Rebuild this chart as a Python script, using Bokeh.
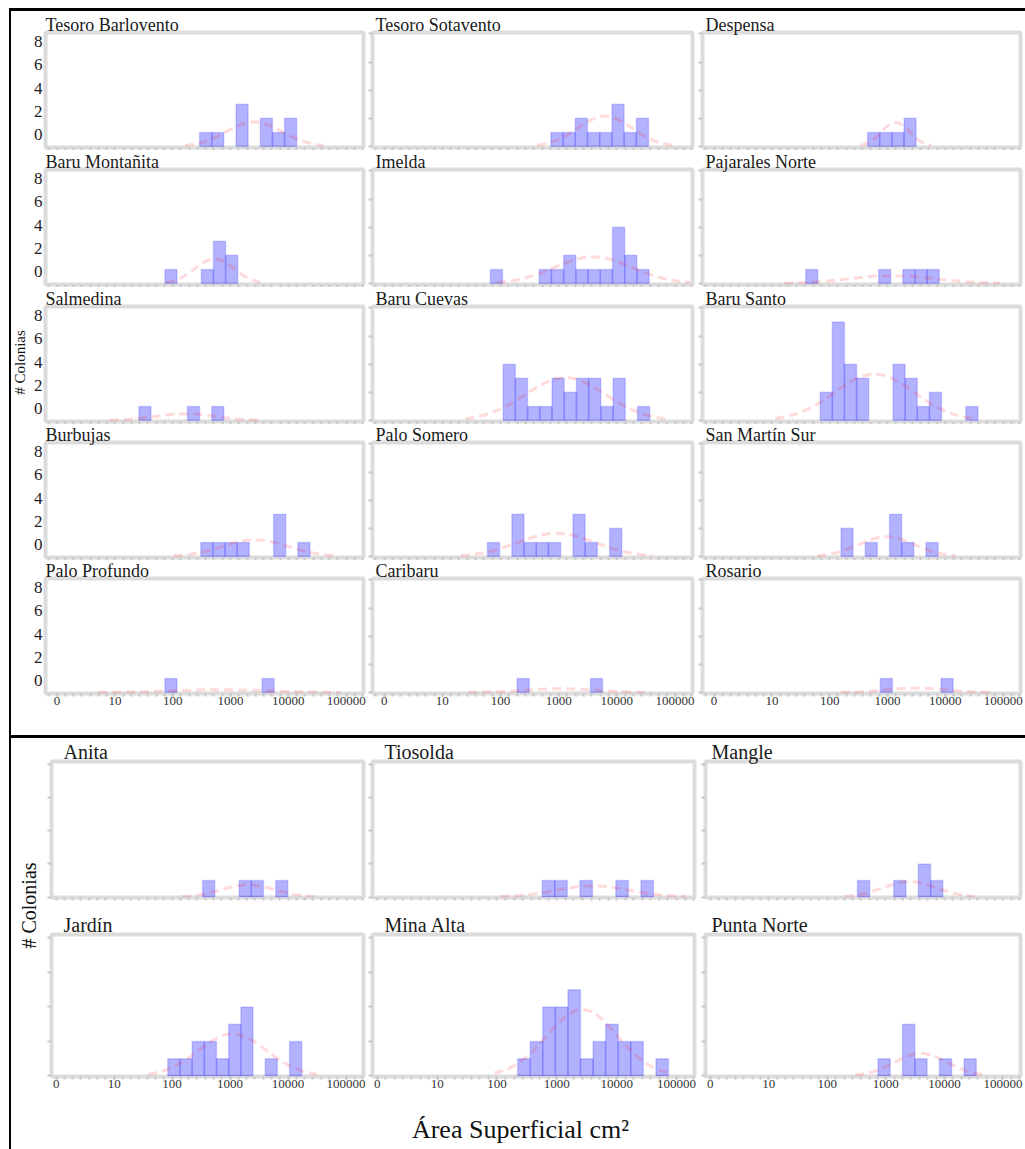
import numpy as np
from bokeh.embed import file_html
from bokeh.layouts import column, row
from bokeh.models import Div, FixedTicker, Label, LinearAxis, Range1d, Spacer
from bokeh.plotting import figure
from bokeh.resources import INLINE

SERIF = "Liberation Serif"

# Size classes are log10(area in cm²); every bar spans 0.21 of a decade.
BIN_WIDTH = 0.21
area_ticks = [0, 1, 2, 3, 4, 5]
area_tick_labels = ["0", "10", "100", "1000", "10000", "100000"]
count_ticks = [0, 2, 4, 6, 8]

# ---- Upper block: bin centres (log10 cm²) and colonies per bin for each site
tesoro_barlovento_bins = [2.57, 2.78, 3.20, 3.62, 3.83, 4.04]
tesoro_barlovento_counts = [1, 1, 3, 2, 1, 2]
tesoro_sotavento_bins = [2.97, 3.18, 3.39, 3.60, 3.81, 4.02, 4.23, 4.44]
tesoro_sotavento_counts = [1, 1, 2, 1, 1, 3, 1, 2]
despensa_bins = [2.76, 2.97, 3.18, 3.39]
despensa_counts = [1, 1, 1, 2]

baru_montanita_bins = [1.97, 2.60, 2.81, 3.02]
baru_montanita_counts = [1, 1, 3, 2]
imelda_bins = [1.93, 2.77, 2.98, 3.19, 3.40, 3.61, 3.82, 4.03, 4.24, 4.45]
imelda_counts = [1, 1, 1, 2, 1, 1, 1, 4, 2, 1]
pajarales_norte_bins = [1.69, 2.95, 3.37, 3.58, 3.79]
pajarales_norte_counts = [1, 1, 1, 1, 1]

salmedina_bins = [1.52, 2.36, 2.78]
salmedina_counts = [1, 1, 1]
baru_cuevas_bins = [2.15, 2.36, 2.57, 2.78, 2.99, 3.20, 3.41, 3.62, 3.83, 4.04, 4.46]
baru_cuevas_counts = [4, 3, 1, 1, 3, 2, 3, 3, 1, 3, 1]
baru_santo_bins = [1.94, 2.15, 2.36, 2.57, 3.20, 3.41, 3.62, 3.83, 4.46]
baru_santo_counts = [2, 7, 4, 3, 4, 3, 1, 2, 1]

burbujas_bins = [2.59, 2.80, 3.01, 3.22, 3.85, 4.27]
burbujas_counts = [1, 1, 1, 1, 3, 1]
palo_somero_bins = [1.88, 2.30, 2.51, 2.72, 2.93, 3.35, 3.56, 3.98]
palo_somero_counts = [1, 3, 1, 1, 1, 3, 1, 2]
san_martin_sur_bins = [2.30, 2.72, 3.14, 3.35, 3.77]
san_martin_sur_counts = [2, 1, 3, 1, 1]

palo_profundo_bins = [1.97, 3.65]
palo_profundo_counts = [1, 1]
caribaru_bins = [2.39, 3.65]
caribaru_counts = [1, 1]
rosario_bins = [2.98, 4.03]
rosario_counts = [1, 1]

# ---- Lower block
anita_bins = [2.63, 3.26, 3.47, 3.89]
anita_counts = [1, 1, 1, 1]
tiosolda_bins = [2.86, 3.07, 3.49, 4.09, 4.51]
tiosolda_counts = [1, 1, 1, 1, 1]
mangle_bins = [2.62, 3.24, 3.66, 3.87]
mangle_counts = [1, 1, 2, 1]

jardin_bins = [2.03, 2.24, 2.45, 2.66, 2.87, 3.08, 3.29, 3.71, 4.13]
jardin_counts = [1, 1, 2, 2, 1, 3, 4, 1, 2]
mina_alta_bins = [2.45, 2.66, 2.87, 3.08, 3.29, 3.50, 3.71, 3.92, 4.13, 4.34, 4.76]
mina_alta_counts = [1, 2, 4, 4, 5, 1, 2, 3, 2, 2, 1]
punta_norte_bins = [2.97, 3.39, 3.60, 4.02, 4.44]
punta_norte_counts = [1, 3, 1, 1, 1]

upper_sites = [
    [("Tesoro Barlovento", tesoro_barlovento_bins, tesoro_barlovento_counts),
     ("Tesoro Sotavento", tesoro_sotavento_bins, tesoro_sotavento_counts),
     ("Despensa", despensa_bins, despensa_counts)],
    [("Baru Montañita", baru_montanita_bins, baru_montanita_counts),
     ("Imelda", imelda_bins, imelda_counts),
     ("Pajarales Norte", pajarales_norte_bins, pajarales_norte_counts)],
    [("Salmedina", salmedina_bins, salmedina_counts),
     ("Baru Cuevas", baru_cuevas_bins, baru_cuevas_counts),
     ("Baru Santo", baru_santo_bins, baru_santo_counts)],
    [("Burbujas", burbujas_bins, burbujas_counts),
     ("Palo Somero", palo_somero_bins, palo_somero_counts),
     ("San Martín Sur", san_martin_sur_bins, san_martin_sur_counts)],
    [("Palo Profundo", palo_profundo_bins, palo_profundo_counts),
     ("Caribaru", caribaru_bins, caribaru_counts),
     ("Rosario", rosario_bins, rosario_counts)],
]
lower_sites = [
    [("Anita", anita_bins, anita_counts),
     ("Tiosolda", tiosolda_bins, tiosolda_counts),
     ("Mangle", mangle_bins, mangle_counts)],
    [("Jardín", jardin_bins, jardin_counts),
     ("Mina Alta", mina_alta_bins, mina_alta_counts),
     ("Punta Norte", punta_norte_bins, punta_norte_counts)],
]

# small gray marks along the bottom of every frame, 7 per decade
AREA_MINOR = [k / 7 for k in range(-1, 38)]
TICK_GRAY = "#c8c8c8"


def normal_fit(bins, counts, spread=2.5, steps=30):
    """Expected colonies per size class under a normal fit of log10 area."""
    sizes = np.repeat(np.asarray(bins, dtype=float), counts)
    mu, sd = sizes.mean(), sizes.std()
    gx = np.linspace(mu - spread * sd, mu + spread * sd, steps)
    gy = len(sizes) * BIN_WIDTH * np.exp(-0.5 * ((gx - mu) / sd) ** 2) / (sd * np.sqrt(2 * np.pi))
    return gx, gy


def site_panel(name, bins, counts, width, height, border, x_span, y_span,
               title_size, title_offset, title_standoff, label_span=None, area_labels=False):
    left, right, top, bottom = border
    p = figure(title=name, width=width, height=height,
               x_range=Range1d(*x_span), y_range=Range1d(*y_span),
               x_axis_location=None, y_axis_location=None,
               toolbar_location=None, output_backend="svg",
               min_border_left=left, min_border_right=right,
               min_border_top=top, min_border_bottom=bottom)
    p.grid.visible = False
    p.background_fill_color = "white"
    p.border_fill_color = "white"
    p.outline_line_color = "#dcdcdc"
    p.outline_line_width = 4

    p.title.text_font = SERIF
    p.title.text_font_size = f"{title_size}px"
    p.title.text_font_style = "normal"
    p.title.text_color = "#1a1a1a"
    p.title.align = "left"
    p.title.offset = title_offset
    p.title.standoff = title_standoff

    if area_labels:
        xa = LinearAxis(ticker=FixedTicker(ticks=area_ticks, minor_ticks=AREA_MINOR))
        xa.major_label_overrides = dict(zip(area_ticks, area_tick_labels))
        xa.major_label_text_font = SERIF
        xa.major_label_text_font_size = "13px"
        xa.major_label_text_color = "#333333"
        xa.major_label_standoff = 0
    else:
        xa = LinearAxis(ticker=FixedTicker(ticks=[], minor_ticks=AREA_MINOR))
    xa.axis_line_color = None
    xa.major_tick_line_color = TICK_GRAY
    xa.major_tick_line_width = 2
    xa.major_tick_in = 0
    xa.major_tick_out = 3
    xa.minor_tick_line_color = TICK_GRAY
    xa.minor_tick_line_width = 2
    xa.minor_tick_in = 0
    xa.minor_tick_out = 3
    p.add_layout(xa, "below")

    if label_span is not None:
        # numbered count axis of the first column
        p.extra_y_ranges = {"count_labels": Range1d(*label_span)}
        ya = LinearAxis(y_range_name="count_labels", ticker=FixedTicker(ticks=count_ticks))
        ya.major_tick_line_color = None
        ya.major_tick_out = 0
        ya.major_tick_in = 0
        ya.major_label_text_font = SERIF
        ya.major_label_text_font_size = "17px"
        ya.major_label_text_color = "#222222"
        ya.major_label_standoff = 3
    else:
        ya = LinearAxis(ticker=FixedTicker(ticks=[], minor_ticks=count_ticks))
        ya.minor_tick_line_color = TICK_GRAY
        ya.minor_tick_line_width = 2
        ya.minor_tick_in = 0
        ya.minor_tick_out = 4
    ya.axis_line_color = None
    p.add_layout(ya, "left")

    p.vbar(x=bins, top=counts, width=BIN_WIDTH, bottom=0,
           fill_color="#0000ff", fill_alpha=0.3,
           line_color="#0000ff", line_alpha=0.15, line_width=1.5)
    gx, gy = normal_fit(bins, counts)
    p.line(gx, gy, line_color="#ff2020", line_alpha=0.16, line_width=3, line_dash="9 5")
    return p


def text_strip(width, height, text, x, y, size, angle=0.0, baseline="middle"):
    p = figure(width=width, height=height, x_range=Range1d(0, width), y_range=Range1d(0, height),
               x_axis_location=None, y_axis_location=None,
               toolbar_location=None, output_backend="svg", min_border=0)
    p.grid.visible = False
    p.outline_line_color = None
    p.background_fill_color = "white"
    p.border_fill_color = "white"
    p.add_layout(Label(x=x, y=y, text=text, angle=angle, text_font=SERIF,
                       text_font_size=f"{size}px", text_color="#111111",
                       text_align="center", text_baseline=baseline))
    return p


def rule(width, height):
    return Div(text="", width=width, height=height, margin=0,
               styles={"background-color": "#000000"})


def gap(width, height):
    return Spacer(width=width, height=height, margin=0)


# ---- upper block: 5 rows x 3 columns
upper_rows = [  # (height, top border, bottom border)
    (139, 21, 3), (137, 19, 3), (137, 19, 3), (136, 18, 3), (175, 18, 42),
]
upper_cols = [(337, 13, 4), (330, 5, 5), (328, 5, 5)]  # (width, left, right)
UPPER_X = (-0.2, 5.3)
UPPER_Y = (-0.07, 8.1)
UPPER_LABELS = (-1.12, 8.78)

upper_columns = []
for c, (w, lb, rb) in enumerate(upper_cols):
    figs = []
    for r, (h, tb, bb) in enumerate(upper_rows):
        name, bins, counts = upper_sites[r][c]
        figs.append(site_panel(name, bins, counts, w, h, (lb, rb, tb, bb), UPPER_X, UPPER_Y,
                               title_size=18, title_offset=0 if c == 0 else 3, title_standoff=-5,
                               label_span=UPPER_LABELS if c == 0 else None,
                               area_labels=(r == len(upper_rows) - 1)))
    upper_columns.append(column(*figs))

upper_ylabel = text_strip(19, 724, "# Colonias", 8, 373, 15, angle=np.pi / 2)
upper_block = row(upper_ylabel, *upper_columns)

# ---- lower block: 2 rows x 3 columns
lower_rows = [(170, 23, 11), (187, 26, 19)]
lower_cols = [(327, 11, 4), (330, 5, 3), (328, 8, 5)]
LOWER_X = (-0.08, 5.3)
LOWER_Y = (-0.03, 8.2)

lower_columns = []
for c, (w, lb, rb) in enumerate(lower_cols):
    figs = []
    for r, (h, tb, bb) in enumerate(lower_rows):
        name, bins, counts = lower_sites[r][c]
        figs.append(site_panel(name, bins, counts, w, h, (lb, rb, tb, bb), LOWER_X, LOWER_Y,
                               title_size=20, title_offset=12 if c != 2 else 6, title_standoff=-2,
                               area_labels=(r == len(lower_rows) - 1)))
    lower_columns.append(column(*figs))

lower_ylabel = text_strip(29, 357, "# Colonias", 17, 190, 20, angle=np.pi / 2)
lower_xlabel = text_strip(1014, 54, "Área Superficial cm²", 509, 20, 26)
lower_block = column(row(lower_ylabel, *lower_columns), lower_xlabel)

content = column(upper_block, rule(1014, 3), lower_block)
root = column(
    gap(1025, 8),
    row(gap(9, 3), rule(1016, 3)),
    row(gap(9, 1138), rule(2, 1138), content),
)

open("out.html", "w").write(file_html(root, INLINE))
